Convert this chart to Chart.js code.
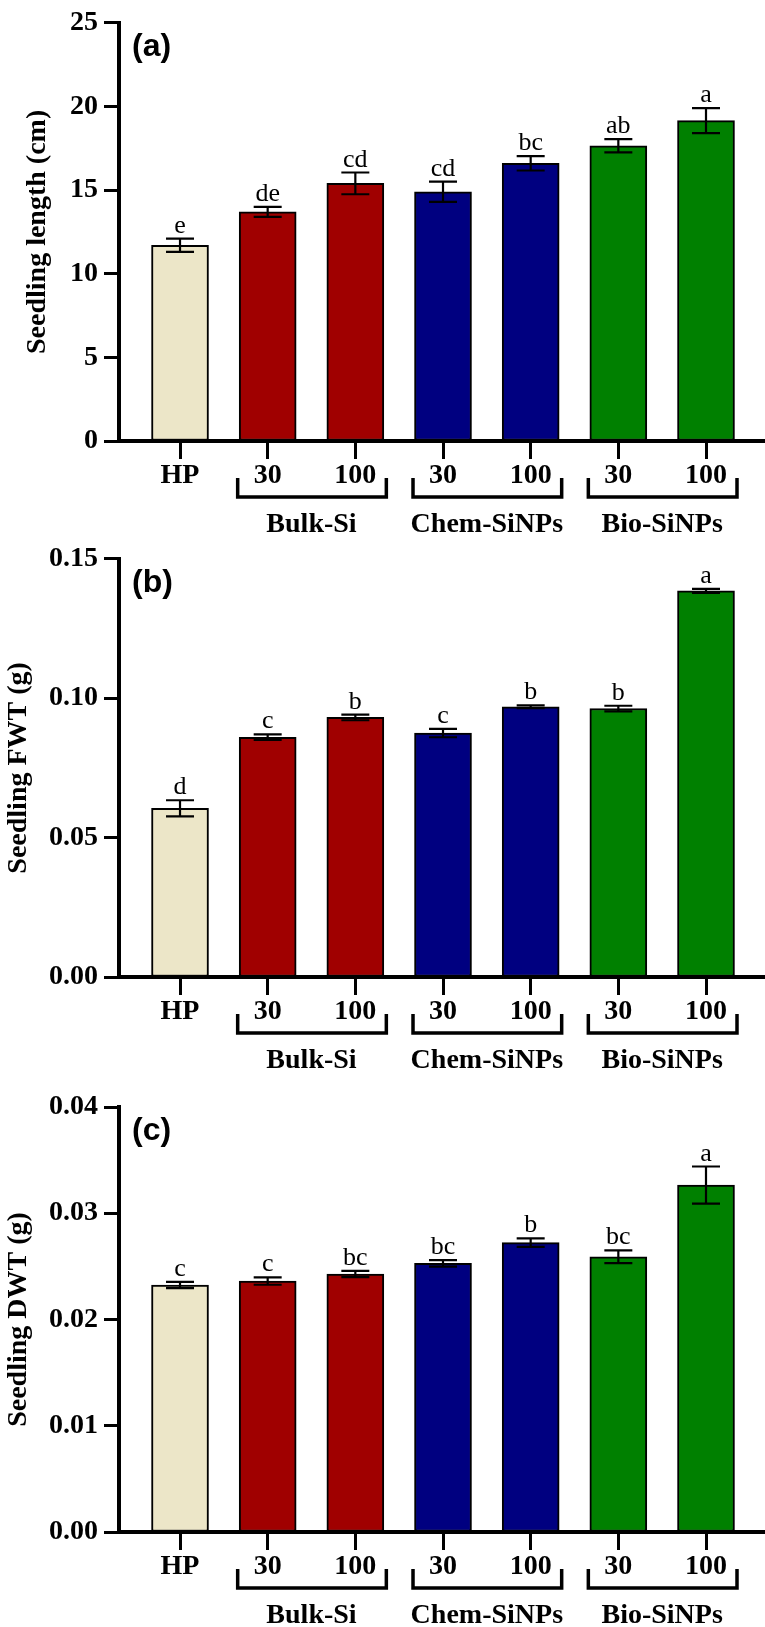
<!DOCTYPE html>
<html>
<head>
    <meta charset="UTF-8">
    <title>Seedling growth</title>
    <script src="https://cdn.jsdelivr.net/npm/chart.js"></script>
    <style>
        body {
            margin: 0;
            background: #fff;
            overflow: hidden;
        }
        canvas {
            display: block;
        }
    </style>
</head>
<body>
<canvas id="lengthChart" width="765" height="536"></canvas>
<canvas id="fwtChart" width="765" height="536"></canvas>
<canvas id="dwtChart" width="765" height="555"></canvas>
<script>
    // treatments, left to right
    const treatments = ['HP', '30', '100', '30', '100', '30', '100'];
    const groupNames = ['Bulk-Si', 'Chem-SiNPs', 'Bio-SiNPs'];
    const groupMembers = [[1, 2], [3, 4], [5, 6]];
    const barColors = ['#ece6c8', '#a00000', '#a00000', '#000080', '#000080', '#008000', '#008000'];

    // (a) seedling length, cm
    const lengthMean = [11.7, 13.7, 15.4, 14.9, 16.6, 17.65, 19.15];
    const lengthSd = [0.4, 0.3, 0.65, 0.6, 0.43, 0.4, 0.75];
    const lengthLetters = ['e', 'de', 'cd', 'cd', 'bc', 'ab', 'a'];

    // (b) seedling fresh weight, g
    const fwtMean = [0.0605, 0.086, 0.0931, 0.0875, 0.0969, 0.0963, 0.1385];
    const fwtSd = [0.0029, 0.001, 0.001, 0.0015, 0.0005, 0.001, 0.0007];
    const fwtLetters = ['d', 'c', 'b', 'c', 'b', 'b', 'a'];

    // (c) seedling dry weight, g
    const dwtMean = [0.02325, 0.02362, 0.02428, 0.02528, 0.02723, 0.02591, 0.03265];
    const dwtSd = [0.0003, 0.00035, 0.0003, 0.0003, 0.0004, 0.0006, 0.00175];
    const dwtLetters = ['c', 'c', 'bc', 'bc', 'b', 'bc', 'a'];

    const serif = '"Liberation Serif", "Times New Roman", serif';
    Chart.defaults.color = '#000';

    // error bars, letters, panel tag, group brackets
    const extras = {
        id: 'extras',
        afterDatasetsDraw(chart, args, opts) {
            const ctx = chart.ctx;
            const xs = chart.scales.x, ys = chart.scales.y;
            const means = chart.data.datasets[0].data;
            ctx.save();
            ctx.strokeStyle = '#000';
            ctx.fillStyle = '#000';
            ctx.lineWidth = 2.2;
            means.forEach((p, i) => {
                const x = xs.getPixelForValue(p.x);
                const top = ys.getPixelForValue(p.y + opts.sd[i]);
                const bot = ys.getPixelForValue(p.y - opts.sd[i]);
                ctx.beginPath();
                ctx.moveTo(x, top); ctx.lineTo(x, bot);
                ctx.moveTo(x - 14, top); ctx.lineTo(x + 14, top);
                ctx.moveTo(x - 14, bot); ctx.lineTo(x + 14, bot);
                ctx.stroke();
                ctx.font = '26px ' + serif;
                ctx.textAlign = 'center';
                ctx.textBaseline = 'alphabetic';
                ctx.fillText(opts.letters[i], x, top - 6);
            });
            ctx.restore();
        },
        afterDraw(chart, args, opts) {
            const ctx = chart.ctx;
            const xs = chart.scales.x;
            const area = chart.chartArea;
            ctx.save();
            ctx.fillStyle = '#000';
            ctx.strokeStyle = '#000';
            ctx.font = 'bold 32px "Liberation Sans", Arial, sans-serif';
            ctx.textAlign = 'left';
            ctx.textBaseline = 'middle';
            ctx.fillText(opts.tag, 132, area.top + 24);

            const yb = area.bottom;
            ctx.lineWidth = 3.5;
            ctx.font = 'bold 28px ' + serif;
            ctx.textAlign = 'center';
            ctx.textBaseline = 'alphabetic';
            groupMembers.forEach((g, k) => {
                const a = xs.getPixelForValue(g[0]);
                const b = xs.getPixelForValue(g[1]);
                ctx.beginPath();
                ctx.moveTo(a - 30, yb + 37);
                ctx.lineTo(a - 30, yb + 56);
                ctx.lineTo(b + 31, yb + 56);
                ctx.lineTo(b + 31, yb + 37);
                ctx.stroke();
                ctx.fillText(groupNames[k], (a + b) / 2, yb + 91);
            });
            ctx.restore();
        }
    };

    function makeChart(id, means, sd, letters, tag, yTitle, yMax, yStep, digits, topPad, titlePad) {
        return new Chart(document.getElementById(id), {
            type: 'bar',
            data: {
                datasets: [{
                    data: means.map((v, i) => ({x: i, y: v})),
                    backgroundColor: barColors,
                    borderColor: '#000',
                    borderWidth: 2,
                    borderSkipped: false,
                    barThickness: 57
                }]
            },
            options: {
                responsive: false,
                animation: false,
                layout: {padding: {top: topPad, left: 0, right: 0, bottom: 0}},
                plugins: {
                    legend: {display: false},
                    tooltip: {enabled: false},
                    extras: {sd: sd, letters: letters, tag: tag}
                },
                scales: {
                    x: {
                        type: 'linear',
                        offset: false,
                        min: -0.696,
                        max: 6.673,
                        afterBuildTicks: (s) => { s.ticks = treatments.map((t, i) => ({value: i})); },
                        afterFit: (s) => { s.height = 95; },
                        border: {color: '#000', width: 4},
                        grid: {offset: false, drawOnChartArea: false, tickLength: 18, tickWidth: 3, color: '#000'},
                        ticks: {
                            autoSkip: false,
                            maxRotation: 0,
                            padding: 0,
                            font: {family: serif, size: 28, weight: 'bold'},
                            callback: (v, i) => treatments[i]
                        }
                    },
                    y: {
                        min: 0,
                        max: yMax,
                        afterFit: (s) => { s.width = 119; },
                        border: {color: '#000', width: 4},
                        grid: {drawOnChartArea: false, tickLength: 15, tickWidth: 3, color: '#000'},
                        ticks: {
                            stepSize: yStep,
                            padding: 6,
                            font: {family: serif, size: 28, weight: 'bold'},
                            callback: (v) => v.toFixed(digits)
                        },
                        title: {
                            display: true,
                            text: yTitle,
                            padding: {top: titlePad, bottom: 0},
                            font: {family: serif, size: 28, weight: 'bold'}
                        }
                    }
                }
            },
            plugins: [extras]
        });
    }

    makeChart('lengthChart', lengthMean, lengthSd, lengthLetters, '(a)', 'Seedling length (cm)', 25, 5, 0, 13, 21);
    makeChart('fwtChart', fwtMean, fwtSd, fwtLetters, '(b)', 'Seedling FWT (g)', 0.15, 0.05, 2, 12, 2);
    makeChart('dwtChart', dwtMean, dwtSd, dwtLetters, '(c)', 'Seedling DWT (g)', 0.04, 0.01, 2, 35, 2);
</script>
</body>
</html>
